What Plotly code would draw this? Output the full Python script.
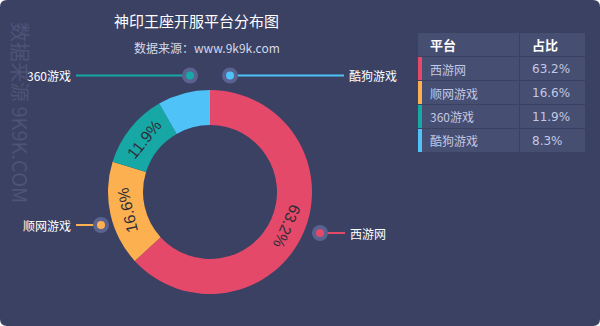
import math
import plotly.graph_objects as go

# ---- data ----
platforms = ["西游网", "顺网游戏", "360游戏", "酷狗游戏"]
shares = [63.2, 16.6, 11.9, 8.3]
colors = ["#e5496a", "#fdb04f", "#17a8a5", "#4fc3f7"]
title_text = "神印王座开服平台分布图"
subtitle_text = "数据来源：www.9k9k.com"
watermark_text = "数据来源 9K9K.COM"
table_headers = ["平台", "占比"]

W, H = 600, 326
BG = "#3a4163"
CELL = "#464e72"
FONT = "Noto Sans CJK SC"

def px(x):
    return x / W

def py(y):
    return 1 - y / H

# donut geometry (pixels)
cx, cy, R, r_in = 210, 192, 102, 67

fig = go.Figure()
fig.add_trace(go.Pie(
    labels=platforms, values=shares, sort=False, direction="clockwise", rotation=0,
    hole=r_in / R, marker=dict(colors=colors, line=dict(width=0)),
    textinfo="none", hoverinfo="label+percent", showlegend=False,
    domain=dict(x=[px(cx - R), px(cx + R)], y=[py(cy + R), py(cy - R)]),
))

shapes = []
annotations = []

# rounded background
rr = 7
path = (f"M {rr},0 L {W-rr},0 Q {W},0 {W},{rr} L {W},{H-rr} Q {W},{H} {W-rr},{H} "
        f"L {rr},{H} Q 0,{H} 0,{H-rr} L 0,{rr} Q 0,0 {rr},0 Z")

def path_paper(p):
    res = ""
    for t in p.split():
        if "," in t:
            a, b = t.split(",")
            res += f"{px(float(a)):.5f},{py(float(b)):.5f} "
        else:
            res += t + " "
    return res.strip()

shapes.append(dict(type="path", xref="paper", yref="paper", path=path_paper(path),
                   fillcolor=BG, line=dict(width=0), layer="below"))

# percentage labels in donut, rotated tangentially (small slices unlabeled)
total = sum(shares)
acc = 0
rm = (R + r_in) / 2
for v in shares:
    mid = (acc + v / 2) / total * 360
    acc += v
    if v / total < 0.1:
        continue
    a = math.radians(mid)
    x = cx + rm * math.sin(a)
    y = cy - rm * math.cos(a)
    annotations.append(dict(x=px(x), y=py(y), xref="paper", yref="paper",
                            text=f"{v / total * 100:.1f}%", showarrow=False,
                            textangle=mid, font=dict(family="Liberation Sans, Arial", size=16, color="#2e2e3a"),
                            xanchor="center", yanchor="middle"))

# leader lines (decorative): (dot x, dot y, line end x, label side)
leaders = {
    "西游网": (320, 233, 345, "right"),
    "顺网游戏": (101, 225, 76, "left"),
    "360游戏": (190, 75.5, 76, "left"),
    "酷狗游戏": (230, 75.5, 344, "right"),
}
for name, col in zip(platforms, colors):
    dx, dy, ex, side = leaders[name]
    shapes.append(dict(type="line", xref="paper", yref="paper", x0=px(dx), y0=py(dy), x1=px(ex), y1=py(dy),
                       line=dict(color=col, width=2)))
    shapes.append(dict(type="circle", xref="paper", yref="paper", x0=px(dx - 8), x1=px(dx + 8),
                       y0=py(dy + 8), y1=py(dy - 8), fillcolor="#5a6390", line=dict(width=0)))
    shapes.append(dict(type="circle", xref="paper", yref="paper", x0=px(dx - 4), x1=px(dx + 4),
                       y0=py(dy + 4), y1=py(dy - 4), fillcolor=col, line=dict(width=0)))
    if side == "right":
        annotations.append(dict(x=px(ex + 3), y=py(dy), xref="paper", yref="paper", text=name, showarrow=False,
                                xanchor="left", yanchor="middle", font=dict(family=FONT, size=12, color="white")))
    else:
        annotations.append(dict(x=px(ex - 3), y=py(dy), xref="paper", yref="paper", text=name, showarrow=False,
                                xanchor="right", yanchor="middle", font=dict(family=FONT, size=12, color="white")))

# title and subtitle
annotations.append(dict(x=px(196), y=py(21), xref="paper", yref="paper", text=title_text, showarrow=False,
                        xanchor="center", yanchor="middle", font=dict(family=FONT, size=15, color="white")))
annotations.append(dict(x=px(207), y=py(47), xref="paper", yref="paper", text=subtitle_text, showarrow=False,
                        xanchor="center", yanchor="middle", font=dict(family=FONT, size=12, color="#d4d8ea")))

# watermark
annotations.append(dict(x=px(21), y=py(112), xref="paper", yref="paper", text=watermark_text, showarrow=False,
                        textangle=90, xanchor="center", yanchor="middle",
                        font=dict(family=FONT, size=20, color="#4c5477")))

# table
tx0, tx1, tx2 = 418, 519, 585
ty = 33
hh = 23
rh = 24
shapes.append(dict(type="rect", xref="paper", yref="paper", x0=px(tx0), x1=px(tx1), y0=py(ty + hh), y1=py(ty),
                   fillcolor=CELL, line=dict(width=0)))
shapes.append(dict(type="rect", xref="paper", yref="paper", x0=px(tx1 + 1), x1=px(tx2), y0=py(ty + hh), y1=py(ty),
                   fillcolor=CELL, line=dict(width=0)))
annotations.append(dict(x=px(428), y=py(ty + hh / 2 + 0.5), xref="paper", yref="paper", text=f"<b>{table_headers[0]}</b>",
                        showarrow=False, xanchor="left", yanchor="middle", font=dict(family=FONT, size=13, color="white")))
annotations.append(dict(x=px(530), y=py(ty + hh / 2 + 0.5), xref="paper", yref="paper", text=f"<b>{table_headers[1]}</b>",
                        showarrow=False, xanchor="left", yanchor="middle", font=dict(family=FONT, size=13, color="white")))
for i, (name, v, col) in enumerate(zip(platforms, shares, colors)):
    y0 = ty + hh + 1 + i * rh
    y1 = y0 + rh - 1
    shapes.append(dict(type="rect", xref="paper", yref="paper", x0=px(tx0), x1=px(tx1), y0=py(y1), y1=py(y0),
                       fillcolor=CELL, line=dict(width=0)))
    shapes.append(dict(type="rect", xref="paper", yref="paper", x0=px(tx1 + 1), x1=px(tx2), y0=py(y1), y1=py(y0),
                       fillcolor=CELL, line=dict(width=0)))
    shapes.append(dict(type="rect", xref="paper", yref="paper", x0=px(tx0), x1=px(tx0 + 4), y0=py(y1), y1=py(y0),
                       fillcolor=col, line=dict(width=0)))
    yc = (y0 + y1) / 2 + 0.5
    annotations.append(dict(x=px(428), y=py(yc), xref="paper", yref="paper", text=name, showarrow=False,
                            xanchor="left", yanchor="middle", font=dict(family=FONT, size=12, color="#c3c8e3")))
    annotations.append(dict(x=px(530), y=py(yc), xref="paper", yref="paper", text=f"{v / total * 100:.1f}%",
                            showarrow=False, xanchor="left", yanchor="middle",
                            font=dict(family="DejaVu Sans", size=12, color="#c3c8e3")))

fig.update_layout(
    width=W, height=H, margin=dict(l=0, r=0, t=0, b=0),
    paper_bgcolor="white", plot_bgcolor="white",
    shapes=shapes, annotations=annotations,
)
fig.write_html("out.html", config={"displayModeBar": False})
